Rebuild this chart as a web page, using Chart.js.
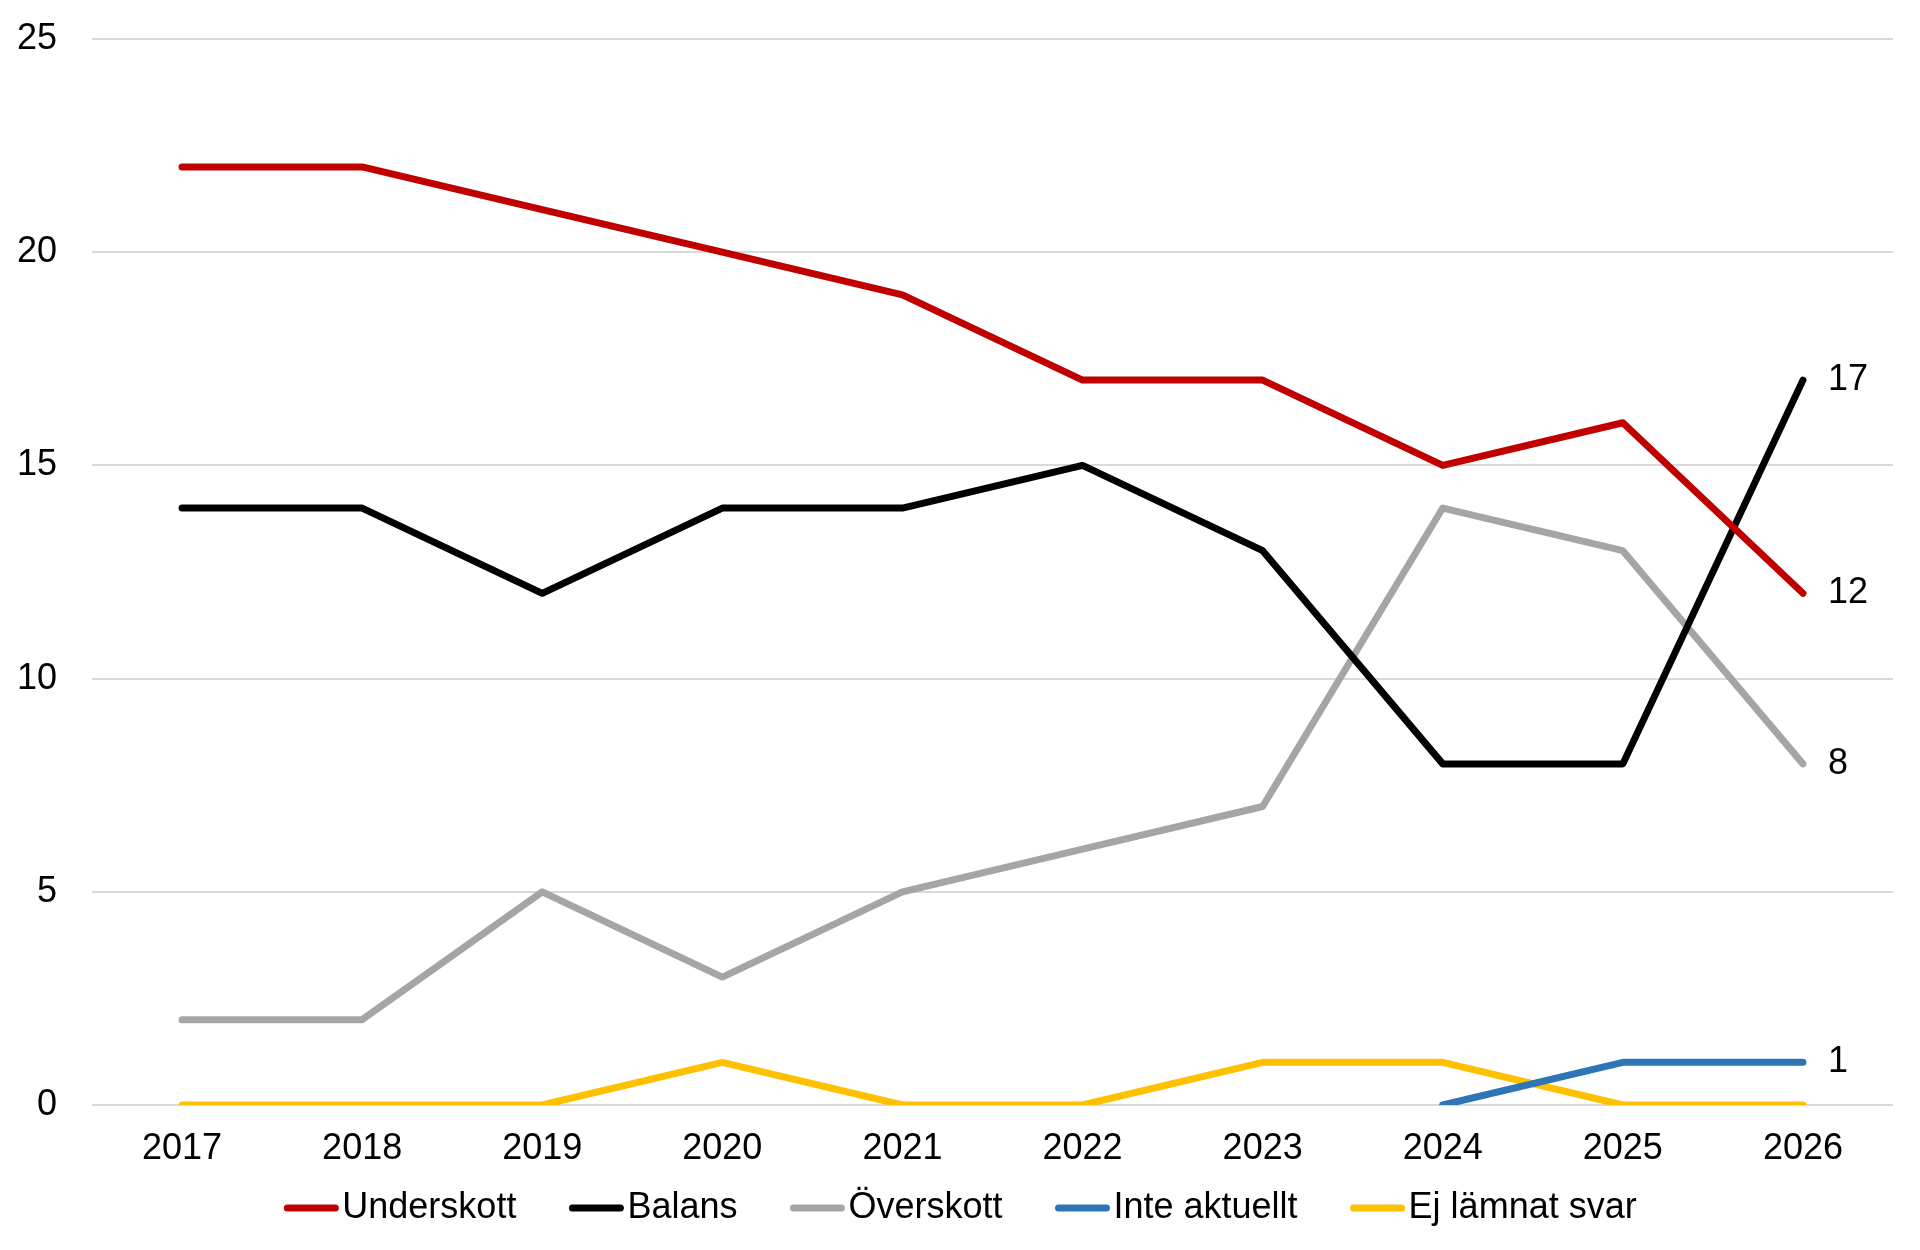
<!DOCTYPE html>
<html>
<head>
<meta charset="utf-8">
<script src="https://cdn.jsdelivr.net/npm/chart.js@4.4.1/dist/chart.umd.min.js"></script>
<style>
  html, body { margin: 0; padding: 0; background: #fff; }
  #wrap { width: 1920px; height: 1250px; }
</style>
</head>
<body>
<div id="wrap"><canvas id="chart" width="1920" height="1250"></canvas></div>
<script>
// Data
const years = ["2017", "2018", "2019", "2020", "2021", "2022", "2023", "2024", "2025", "2026"];
const underskott = [22, 22, 21, 20, 19, 17, 17, 15, 16, 12];
const balans = [14, 14, 12, 14, 14, 15, 13, 8, 8, 17];
const overskott = [2, 2, 5, 3, 5, 6, 7, 14, 13, 8];
const inteAktuellt = [null, null, null, null, null, null, null, 0, 1, 1];
const ejSvar = [0, 0, 0, 1, 0, 0, 1, 1, 0, 0];
const yTicks = [0, 5, 10, 15, 20, 25];

const FONT = "'Liberation Sans', Arial, sans-serif";

function line(label, data, color, endLabel) {
  return {
    label: label,
    data: data,
    borderColor: color,
    backgroundColor: color,
    borderWidth: 7,
    borderCapStyle: "round",
    borderJoinStyle: "round",
    pointRadius: 0,
    pointHoverRadius: 0,
    tension: 0,
    spanGaps: false,
    endLabel: endLabel,
  };
}

// value labels at end of lines
const endLabels = {
  id: "endLabels",
  afterDatasetsDraw(chart) {
    const ctx = chart.ctx;
    ctx.save();
    ctx.font = "36px " + FONT;
    ctx.fillStyle = "#000";
    ctx.textAlign = "left";
    ctx.textBaseline = "middle";
    chart.data.datasets.forEach((ds, i) => {
      if (!ds.endLabel) return;
      const meta = chart.getDatasetMeta(i);
      const last = meta.data[meta.data.length - 1];
      ctx.fillText(String(ds.data[ds.data.length - 1]), last.x + 25, last.y);
    });
    ctx.restore();
  },
};

// legend drawn close to the swatch, like the original
const bottomLegend = {
  id: "bottomLegend",
  afterDraw(chart) {
    const ctx = chart.ctx;
    const swatch = 56;
    const gap = 3;
    const itemGap = 52;
    const y = 1208;
    ctx.save();
    ctx.font = "36px " + FONT;
    ctx.textBaseline = "middle";
    const items = chart.data.datasets.map((ds) => ({
      text: ds.label,
      color: ds.borderColor,
      w: swatch + gap + ctx.measureText(ds.label).width,
    }));
    const total = items.reduce((s, it) => s + it.w, 0) + itemGap * (items.length - 1);
    let x = chart.width / 2 - total / 2;
    items.forEach((it) => {
      ctx.strokeStyle = it.color;
      ctx.lineWidth = 7;
      ctx.lineCap = "round";
      ctx.beginPath();
      ctx.moveTo(x + 4, y);
      ctx.lineTo(x + swatch - 4, y);
      ctx.stroke();
      ctx.fillStyle = "#000";
      ctx.fillText(it.text, x + swatch + gap, y);
      x += it.w + itemGap;
    });
    ctx.restore();
  },
};

new Chart(document.getElementById("chart").getContext("2d"), {
  type: "line",
  data: {
    labels: years,
    datasets: [
      line("Underskott", underskott, "#C00000", true),
      line("Balans", balans, "#000000", true),
      line("Överskott", overskott, "#A5A5A5", true),
      line("Inte aktuellt", inteAktuellt, "#2E75B6", true),
      line("Ej lämnat svar", ejSvar, "#FFC000", false),
    ],
  },
  options: {
    responsive: false,
    animation: false,
    layout: { padding: { top: 39, right: 27, left: 0, bottom: 0 } },
    scales: {
      x: {
        offset: true,
        grid: { display: false, drawTicks: false },
        border: { display: false },
        ticks: { color: "#000", font: { family: FONT, size: 36 }, padding: 22, maxRotation: 0 },
        afterFit(axis) { axis.height = 145; },
      },
      y: {
        min: 0,
        max: 25,
        afterBuildTicks(axis) { axis.ticks = yTicks.map((v) => ({ value: v })); },
        grid: { color: "#D9D9D9", lineWidth: 2, drawTicks: false },
        border: { display: false },
        ticks: { color: "#000", font: { family: FONT, size: 36 }, padding: 35 },
        afterFit(axis) {
          axis.width = 92;
          axis.paddingTop = 0;
          axis.paddingBottom = 0;
        },
      },
    },
    plugins: {
      legend: { display: false },
      tooltip: { enabled: false },
    },
  },
  plugins: [endLabels, bottomLegend],
});
</script>
</body>
</html>
